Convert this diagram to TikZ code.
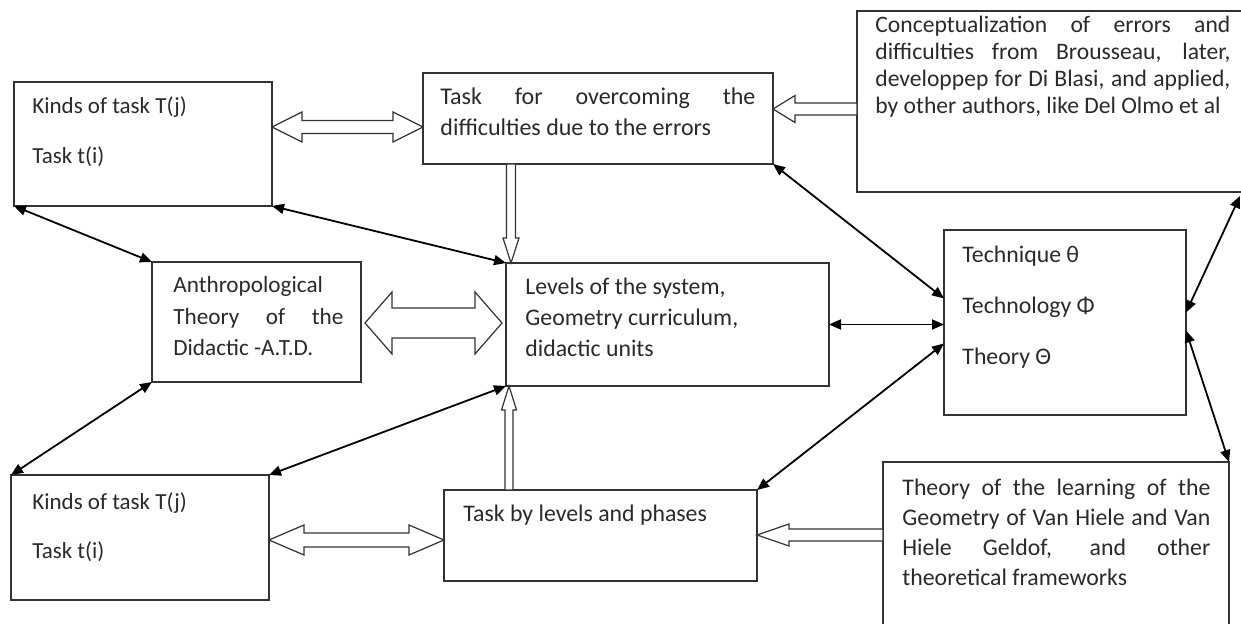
\documentclass[tikz,border=0pt]{standalone}
\usepackage{fontspec}
\setmainfont{Carlito}
\usetikzlibrary{calc,arrows.meta}
\definecolor{linegray}{HTML}{333333}
\definecolor{textgray}{HTML}{2A2A2A}

% double-headed hollow arrow, horizontal: left tip, right tip, shaft half, head half, head length
\newcommand\hollowpair[5]{%
  \draw[hollow] (#1) -- ($(#1)+(#5,-#4)$) -- ($(#1)+(#5,-#3)$) -- ($(#2)+(-#5,-#3)$)
    -- ($(#2)+(-#5,-#4)$) -- (#2) -- ($(#2)+(-#5,#4)$) -- ($(#2)+(-#5,#3)$)
    -- ($(#1)+(#5,#3)$) -- ($(#1)+(#5,#4)$) -- cycle;}
% single hollow arrow pointing left: tip, tail, shaft half, head half, head length
\newcommand\hollowleft[5]{%
  \draw[hollow] (#1) -- ($(#1)+(#5,-#4)$) -- ($(#1)+(#5,-#3)$) -- ($(#2)+(0,-#3)$)
    -- ($(#2)+(0,#3)$) -- ($(#1)+(#5,#3)$) -- ($(#1)+(#5,#4)$) -- cycle;}
% single hollow arrow pointing down (tip below tail)
\newcommand\hollowdown[5]{%
  \draw[hollow] (#1) -- ($(#1)+(-#4,-#5)$) -- ($(#1)+(-#3,-#5)$) -- ($(#2)+(-#3,0)$)
    -- ($(#2)+(#3,0)$) -- ($(#1)+(#3,-#5)$) -- ($(#1)+(#4,-#5)$) -- cycle;}
% single hollow arrow pointing up (tip above tail)
\newcommand\hollowup[5]{%
  \draw[hollow] (#1) -- ($(#1)+(-#4,#5)$) -- ($(#1)+(-#3,#5)$) -- ($(#2)+(-#3,0)$)
    -- ($(#2)+(#3,0)$) -- ($(#1)+(#3,#5)$) -- ($(#1)+(#4,#5)$) -- cycle;}

\begin{document}
\begin{tikzpicture}[x=0.5pt,y=-0.5pt,
  box/.style={draw=linegray, line width=0.9pt, inner sep=0pt, outer sep=0pt, anchor=north west},
  % text block anchored at the baseline of its last line
  txt/.style 2 args={inner sep=0pt, anchor=base west, align=left, text=textgray,
    font=\fontsize{#1}{#2}\selectfont},
  link/.style={draw=black, line width=0.9pt,
    {Triangle[length=6pt,width=5pt]}-{Triangle[length=6pt,width=5pt]}},
  hollow/.style={draw=linegray, line width=0.6pt, fill=white, line join=miter}]

\useasboundingbox[fill=white] (0,0) rectangle (1241,624);

% boxes
\node[box, minimum width={258*0.5pt}, minimum height={124*0.5pt}] (kt1) at (14,82) {};
\node[box, minimum width={350*0.5pt}, minimum height={91*0.5pt}] (to) at (423,73) {};
\node[box, minimum width={390*0.5pt}, minimum height={181*0.5pt}] (cz) at (857,11) {};
\node[box, minimum width={209*0.5pt}, minimum height={120*0.5pt}] (atd) at (152,262) {};
\node[box, minimum width={323*0.5pt}, minimum height={123*0.5pt}] (lv) at (506,263) {};
\node[box, minimum width={242*0.5pt}, minimum height={185*0.5pt}] (tq) at (944,230) {};
\node[box, minimum width={258*0.5pt}, minimum height={125*0.5pt}] (kt2) at (11,475) {};
\node[box, minimum width={313*0.5pt}, minimum height={91*0.5pt}] (tl) at (444,490) {};
\node[box, minimum width={346*0.5pt}, minimum height={200*0.5pt}] (th) at (883,462) {};

% texts
\node[txt={11.5}{25}] (kt1t) at (32,164) {Kinds of task T(j)\\Task t(i)};
\node[txt={12}{15.5}] (tot) at (440,136) {\makebox[157.5pt][s]{Task for overcoming the}\\difficulties due to the errors};
\node[txt={11.8}{13.5}] (czt) at (875,114) {\makebox[177.5pt][s]{Conceptualization of errors and}\\
  \makebox[177.5pt][s]{difficulties from Brousseau, later,}\\
  \makebox[177.5pt][s]{developpep for Di Blasi, and applied,}\\
  by other authors, like Del Olmo et al};
\node[txt={11.6}{15.75}] (atdt) at (173,356) {Anthropological\\\makebox[85pt][s]{Theory of the}\\Didactic -A.T.D.};
\node[txt={11.9}{15.5}] (lvt) at (525,357) {Levels of the system,\\Geometry curriculum,\\didactic units};
\node[txt={11.9}{25.5}] (tqt) at (962,365) {Technique θ\\Technology Φ\\Theory Θ};
\node[txt={11.5}{24.5}] (kt2t) at (32,558) {Kinds of task T(j)\\Task t(i)};
\node[txt={11.9}{15}] (tlt) at (463,522) {Task by levels and phases};
\node[txt={11.9}{15}] (tht) at (902,585) {\makebox[154pt][s]{Theory of the learning of the}\\
  \makebox[154pt][s]{Geometry of Van Hiele and Van}\\
  \makebox[154pt][s]{Hiele Geldof, and other}\\
  theoretical frameworks};

% free ends of connectors
\coordinate (czcorner) at (1240,196);
\coordinate (h1l) at (kt1.east |- 0,127);
\coordinate (h1r) at (to.west |- 0,127);
\coordinate (h2t) at (to.east |- 0,109);
\coordinate (h2s) at (cz.west |- 0,109);
\coordinate (h3t) at (511,0 |- lv.north);
\coordinate (h3s) at (511,0 |- to.south);
\coordinate (h4l) at ($(atd.east |- 0,323)+(4,0)$);
\coordinate (h4r) at ($(lv.west |- 0,323)+(-4,0)$);
\coordinate (h5t) at (509,0 |- lv.south);
\coordinate (h5s) at (509,0 |- tl.north);
\coordinate (h6l) at (kt2.east |- 0,540);
\coordinate (h6r) at (tl.west |- 0,540);
\coordinate (h7t) at (tl.east |- 0,535);
\coordinate (h7s) at (th.west |- 0,535);

% hollow block arrows
\hollowpair{h1l}{h1r}{6.5}{15}{30}
\hollowleft{h2t}{h2s}{6}{13.5}{22}
\hollowdown{h3t}{h3s}{4.5}{8}{25}
\hollowpair{h4l}{h4r}{15}{31}{27}
\hollowup{h5t}{h5s}{4}{7.5}{24}
\hollowpair{h6l}{h6r}{7}{15}{35}
\hollowleft{h7t}{h7s}{6}{11}{32}

% line connectors
\draw[link] (kt1.south west) -- (atd.north west);
\draw[link] (kt1.south east) -- (lv.north west);
\draw[link] (atd.south west) -- (kt2.north west);
\draw[link] (lv.south west) -- (kt2.north east);
\draw[link] (to.south east) -- ($(tq.west)+(0,-24)$);
\draw[link] (lv.east) -- (lv.east -| tq.west);
\draw[link] (tl.north east) -- ($(tq.west)+(0,21)$);
\draw[link] (czcorner) -- ($(tq.east)+(0,-10)$);
\draw[link] ($(tq.east)+(0,8)$) -- (th.north east);
\end{tikzpicture}
\end{document}
